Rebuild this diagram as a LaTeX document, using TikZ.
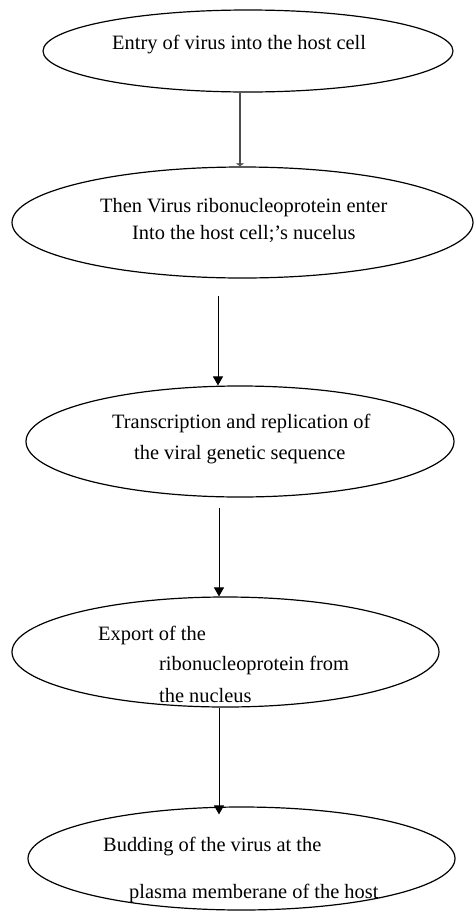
\documentclass[tikz,border=0pt]{standalone}
\usepackage{fontspec}
\setmainfont{Liberation Serif}
\usetikzlibrary{shapes.geometric,arrows.meta}
\begin{document}
\begin{tikzpicture}[x=1pt,y=-1pt,
  oval/.style={draw=black,line width=1.2pt,ellipse,inner sep=0pt},
  txt/.style={anchor=base west,inner sep=0pt,font=\fontsize{20.4}{24}\selectfont},
  flow/.style={draw=black,line width=1pt,-{Triangle[length=9pt,width=10pt]}},
  link/.style={draw=black!70,line width=1.5pt,-{Latex[length=3pt,width=9pt]}}]
\useasboundingbox (0,0) rectangle (474,911);
% ellipses
\node[oval,minimum width=410pt,minimum height=82pt] (e1) at (248,51) {};
\node[oval,minimum width=461pt,minimum height=111pt] (e2) at (242.5,222.5) {};
\node[oval,minimum width=428pt,minimum height=111pt] (e3) at (240,441.5) {};
\node[oval,minimum width=427pt,minimum height=110pt] (e4) at (225.5,652) {};
\node[oval,minimum width=427pt,minimum height=103pt] (e5) at (241.5,858.5) {};
% texts
\node[txt] (t1) at (112,49) {Entry of virus into the host cell};
\node[txt] (t2a) at (100,212) {Then Virus ribonucleoprotein enter};
\node[txt] (t2b) at (132,239) {Into the host cell;'s nucelus};
\node[txt] (t3a) at (112,428) {Transcription and replication of};
\node[txt] (t3b) at (134,459) {the viral genetic sequence};
\node[txt] (t4a) at (98,640) {Export of the};
\node[txt] (t4b) at (159,670) {ribonucleoprotein from};
\node[txt] (t4c) at (159,702) {the nucleus};
\node[txt] (t5a) at (103,851) {Budding of the virus at the};
\node[txt] (t5b) at (129,898) {plasma memberane of the host};
% connectors
\draw[link] ([xshift=-8pt]e1.south) -- ([xshift=-2.5pt]e2.north);
\draw[flow] ([xshift=-24.5pt,yshift=-17pt]e2.south) -- ([xshift=-22pt]e3.north);
\draw[flow] ([xshift=-21pt,yshift=-10pt]e3.south) -- ([xshift=-6.5pt]e4.north);
\draw[flow] ([xshift=-6.5pt]e4.south) -- ([xshift=-22.5pt,yshift=-8pt]e5.north);
\end{tikzpicture}
\end{document}
